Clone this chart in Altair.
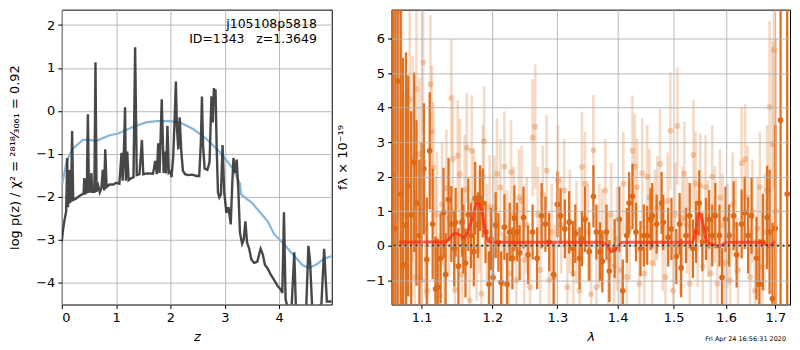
import altair as alt
import pandas as pd

# ---------------- left panel : p(z) ----------------
pz_z = [0.00, 0.02, 0.05, 0.08, 0.10, 0.115, 0.135, 0.15, 0.17, 0.19, 0.21, 0.26, 0.33, 0.40, 0.415,
        0.435, 0.46, 0.48, 0.50, 0.53, 0.545, 0.56, 0.60, 0.62, 0.64, 0.67, 0.70, 0.73, 0.755, 0.78,
        0.80, 0.825, 0.88, 0.95, 1.00, 1.06, 1.10, 1.12, 1.14, 1.165, 1.18, 1.205, 1.23, 1.28, 1.32,
        1.35, 1.38, 1.43, 1.475, 1.50, 1.58, 1.68, 1.72, 1.75, 1.775, 1.80, 1.84, 1.875, 1.90, 1.92,
        1.945, 1.97, 2.00, 2.02, 2.05, 2.075, 2.10, 2.12, 2.145, 2.17, 2.20, 2.23, 2.27, 2.32, 2.40,
        2.48, 2.53, 2.56, 2.58, 2.60, 2.63, 2.68, 2.72, 2.755, 2.78, 2.80, 2.815, 2.83, 2.85, 2.875,
        2.90, 2.93, 2.96, 2.99, 3.03, 3.07, 3.11, 3.14, 3.16, 3.19, 3.22, 3.25, 3.28, 3.32, 3.35,
        3.38, 3.41, 3.45, 3.49, 3.54, 3.60, 3.66, 3.70, 3.74, 3.79, 3.85, 3.91, 3.97, 4.03, 4.06,
        4.09, 4.12, 4.16, 4.23, 4.28, 4.31, 4.40, 4.50, 4.54, 4.57, 4.61, 4.72, 4.78, 4.83, 4.88, 4.97]
pz_logp = [-3.05, -2.80, -2.55, -2.35, -1.10, -2.25, -1.38, -2.15, -2.08, -0.47, -2.08, -2.05, -1.98, -1.93, -1.57,
           -1.92, -1.90, -0.08, -1.89, -1.88, -1.45, -1.89, -1.89, 1.13, -1.89, -1.75, -1.90, -1.80, -1.38, -1.86,
           -0.90, -1.78, -1.72, -1.72, -1.68, -1.70, -0.98, -1.63, -1.10, 0.08, -1.63, -0.95, -1.62, -1.57, -1.55,
           1.48, -1.50, -1.48, -0.68, -1.48, -1.46, -1.47, -1.17, -1.48, -0.76, -1.45, 0.27, -1.45, -0.95, -1.46,
           -0.35, -1.45, -1.42, -1.55, -1.10, -0.27, 0.68, -0.40, -0.90, -0.15, -0.95, -1.40, -1.48, -1.50, -1.49,
           -1.52, -1.52, -0.75, 0.33, -0.80, -1.35, -1.38, -1.20, 0.34, -0.27, 0.53, 0.30, 0.50, -0.80, -1.90,
           -2.02, -1.95, -0.80, -1.90, -2.38, -2.25, -2.65, -1.65, -1.10, -1.45, -1.14, -1.85, -2.85, -3.10, -3.00,
           -2.58, -3.07, -3.22, -3.47, -3.55, -3.52, -3.22, -3.35, -3.60, -3.68, -3.83, -3.95, -4.08, -4.17, -4.25,
           -2.37, -4.40, -4.60, -4.60, -3.30, -4.60, -4.60, -4.60, -3.15, -3.50, -4.60, -4.60, -4.50, -3.22, -4.45, -4.45]

chi_z = [0.01, 0.09, 0.21, 0.39, 0.50, 0.64, 0.88, 1.04, 1.31, 1.55, 1.74, 1.98, 2.17, 2.41, 2.65,
         2.90, 3.14, 3.28, 3.30, 3.51, 3.79, 3.91, 4.06, 4.24, 4.43, 4.55, 4.67, 4.83, 4.97]
chi_val = [-1.70, -1.17, -0.87, -0.68, -0.68, -0.70, -0.57, -0.53, -0.38, -0.27, -0.24, -0.24, -0.27, -0.42, -0.64,
           -0.95, -1.33, -1.70, -1.95, -2.16, -2.58, -2.88, -3.07, -3.33, -3.60, -3.67, -3.60, -3.45, -3.39]

z_ticks = [0, 1, 2, 3, 4]
logp_ticks = [-4, -3, -2, -1, 0, 1, 2]

# ---------------- right panel : spectrum ----------------
dark_wave = [1.062, 1.065, 1.068, 1.072, 1.075, 1.079, 1.082, 1.086, 1.090, 1.093, 1.097, 1.100, 1.103, 1.107,
             1.111, 1.115, 1.119, 1.122, 1.126, 1.130, 1.133, 1.137, 1.141, 1.145, 1.147, 1.151, 1.156, 1.158,
             1.161, 1.165, 1.169, 1.173, 1.175, 1.179, 1.182, 1.186, 1.190, 1.195, 1.198, 1.201, 1.205, 1.209,
             1.213, 1.218, 1.222, 1.226, 1.230, 1.233, 1.237, 1.241, 1.247, 1.254, 1.261, 1.268, 1.275, 1.281,
             1.287, 1.294, 1.300, 1.305, 1.312, 1.319, 1.325, 1.329, 1.336, 1.340, 1.345, 1.352, 1.359, 1.364,
             1.370, 1.374, 1.381, 1.386, 1.395, 1.403, 1.409, 1.416, 1.420, 1.426, 1.432, 1.440, 1.446, 1.452,
             1.458, 1.461, 1.469, 1.478, 1.481, 1.490, 1.496, 1.505, 1.511, 1.514, 1.523, 1.530, 1.536, 1.542,
             1.548, 1.554, 1.561, 1.567, 1.573, 1.579, 1.587, 1.592, 1.599, 1.606, 1.615, 1.621, 1.631, 1.637,
             1.644, 1.651, 1.661, 1.667, 1.674, 1.683, 1.688, 1.694, 1.700, 1.711, 1.725]
dark_flux = [2.00, 0.50, 4.77, 1.50, -0.55, 0.60, 1.73, 0.90, 2.42, 1.24, 0.30, 1.00, 2.23, -0.40,
             2.75, 0.63, -1.25, -1.20, -0.36, 0.96, -0.83, 1.34, 0.63, -0.08, 0.68, -0.59, 0.68, 0.20,
             -0.50, 0.90, 0.30, -0.17, 1.38, 0.60, 1.38, 1.24, 0.40, -1.11, 0.20, -0.92, 0.60, 0.10,
             -1.06, 0.54, -1.11, 0.40, -0.36, 0.80, 0.40, -0.20, 0.82, -0.26, 0.40, -0.36, 0.87, 0.63,
             0.11, -0.83, 1.20, 0.87, 0.49, 0.68, -0.08, 0.35, -0.36, 0.21, 0.77, -0.17, 1.43, 0.40,
             -0.17, -0.45, 0.40, -0.73, -0.08, 0.77, -1.30, 0.30, 1.24, 1.43, 0.40, -0.08, 0.30, 0.30,
             0.77, 0.87, 0.63, 1.24, 0.68, 0.25, 0.49, -0.31, 0.63, -0.64, 0.30, 0.87, -0.08, 0.40,
             1.24, 0.11, 0.49, 0.77, 0.30, 0.87, 0.30, -0.92, 0.77, 0.30, 0.87, -0.26, 0.63, 0.96,
             0.30, 0.87, -0.36, -1.11, 0.11, 0.82, 0.40, -1.53, 0.50, 3.64, 1.50]
dark_err = [20.0, 15.0, 12.0, 8.0, 6.0, 5.0, 3.2, 3.0, 2.6, 2.4, 2.2, 2.0, 1.9, 1.8,
            1.7, 1.6, 1.5, 1.4, 1.3, 1.3, 1.2, 1.2, 1.1, 1.1, 1.0, 1.1, 1.0, 1.0,
            1.0, 1.05, 0.95, 1.0, 1.05, 0.95, 0.95, 1.0, 0.9, 0.95, 0.9, 0.9, 0.95, 0.85,
            0.9, 0.95, 0.9, 0.85, 0.9, 0.95, 0.85, 0.8, 0.9, 0.85, 0.8, 0.9, 0.95, 0.8,
            0.85, 0.9, 0.95, 0.8, 0.85, 0.9, 0.8, 0.85, 0.9, 0.8, 0.95, 0.85, 0.9, 0.8,
            0.85, 0.9, 0.8, 0.9, 0.85, 0.95, 0.9, 0.8, 0.9, 0.95, 0.85, 0.8, 0.9, 0.85,
            0.9, 0.95, 0.85, 0.9, 0.8, 0.85, 0.9, 0.8, 0.9, 0.85, 0.8, 0.95, 0.85, 0.9,
            0.95, 0.85, 0.9, 0.85, 0.9, 0.95, 0.9, 0.85, 0.95, 0.9, 1.0, 0.95, 1.0, 1.05,
            1.1, 1.1, 1.2, 1.3, 1.4, 1.5, 1.8, 2.2, 3.0, 20.0, 20.0]

light_wave = [1.070, 1.073, 1.077, 1.080, 1.084, 1.088, 1.091, 1.093, 1.097, 1.100, 1.102, 1.105, 1.108, 1.112,
              1.114, 1.116, 1.119, 1.121, 1.125, 1.128, 1.131, 1.134, 1.138, 1.141, 1.143, 1.146, 1.150, 1.153,
              1.156, 1.160, 1.163, 1.167, 1.170, 1.173, 1.177, 1.181, 1.184, 1.186, 1.188, 1.192, 1.196, 1.199,
              1.203, 1.207, 1.212, 1.215, 1.218, 1.222, 1.225, 1.228, 1.232, 1.236, 1.240, 1.244, 1.248, 1.252,
              1.257, 1.261, 1.265, 1.269, 1.273, 1.277, 1.283, 1.287, 1.291, 1.296, 1.301, 1.306, 1.311, 1.316,
              1.320, 1.326, 1.331, 1.336, 1.340, 1.345, 1.350, 1.355, 1.359, 1.364, 1.369, 1.374, 1.379, 1.384,
              1.389, 1.394, 1.399, 1.405, 1.410, 1.416, 1.421, 1.426, 1.430, 1.434, 1.438, 1.443, 1.447, 1.452,
              1.456, 1.461, 1.466, 1.470, 1.475, 1.480, 1.485, 1.489, 1.494, 1.499, 1.503, 1.507, 1.512, 1.516,
              1.520, 1.525, 1.530, 1.537, 1.541, 1.545, 1.550, 1.555, 1.560, 1.565, 1.570, 1.573, 1.578, 1.583,
              1.588, 1.593, 1.598, 1.603, 1.608, 1.613, 1.619, 1.624, 1.631, 1.638, 1.643, 1.648, 1.653, 1.658,
              1.663, 1.668, 1.673, 1.678, 1.683, 1.688, 1.694, 1.697, 1.701]
light_flux = [6.78, 3.00, -0.60, 0.87, 4.24, 2.51, -0.90, 4.54, 2.66, -1.00, 5.31, 0.50, -1.30, 4.68,
              3.31, 2.26, 0.20, 0.91, -1.44, 1.20, -0.30, 1.67, 0.80, 4.28, 2.51, -1.28, 2.61, 2.07,
              -0.83, 1.62, 2.84, -1.58, 2.75, 1.30, -0.10, 0.70, -1.39, 2.00, 3.03, 0.40, 1.13, -0.60,
              1.10, 2.09, 1.69, -1.10, 2.30, 0.20, -0.80, 2.14, 0.90, -1.00, 1.40, 1.30, -0.40, 0.60,
              -1.20, 3.13, 3.45, 0.90, -0.70, 1.50, 2.18, -1.00, 0.40, -0.90, 1.90, 0.60, 1.60, -1.20,
              0.70, -0.80, 0.40, -1.30, 2.28, 1.80, 0.40, -1.40, 2.77, -1.20, 0.30, 0.25, 1.60, -0.40,
              0.90, -0.60, 0.20, -0.70, 1.80, -0.90, 0.50, 2.75, 2.30, 1.70, -1.10, 2.10, -0.80, 2.00,
              1.40, -0.50, 0.80, 1.10, 2.37, 0.10, -0.90, 1.30, 3.33, -1.30, 0.90, 3.47, 0.00, 0.80,
              2.09, 0.60, -1.10, 2.63, 1.80, 0.20, 1.75, -0.60, 1.70, 0.50, -0.80, 2.00, 0.90, -1.10,
              1.40, 0.60, -0.50, 0.30, -1.00, 1.20, 0.60, -0.70, 2.39, 2.51, 1.40, -0.90, 1.00, -1.30,
              0.50, 1.70, -0.60, 0.40, 1.60, 4.02, 2.94, 5.67, 1.00]
light_err = [6.0, 6.0, 5.0, 4.0, 3.0, 3.0, 2.5, 2.5, 2.2, 2.2, 2.0, 2.0, 2.0, 2.0,
             1.9, 1.9, 1.8, 1.8, 1.8, 1.8, 1.7, 1.7, 1.7, 1.7, 1.7, 1.6, 1.6, 1.6,
             1.6, 1.6, 1.6, 1.5, 1.6, 1.5, 1.5, 1.5, 1.4, 1.5, 1.6, 1.4, 1.5, 1.4,
             1.5, 1.6, 1.4, 1.5, 1.6, 1.4, 1.5, 1.5, 1.4, 1.5, 1.4, 1.6, 1.5, 1.4,
             1.5, 1.7, 1.8, 1.4, 1.5, 1.4, 1.6, 1.5, 1.4, 1.5, 1.6, 1.4, 1.5, 1.4,
             1.5, 1.4, 1.5, 1.4, 1.6, 1.5, 1.4, 1.5, 1.6, 1.4, 1.5, 1.4, 1.5, 1.4,
             1.5, 1.4, 1.5, 1.4, 1.5, 1.4, 1.5, 1.6, 1.5, 1.4, 1.5, 1.6, 1.4, 1.5,
             1.4, 1.5, 1.4, 1.5, 1.6, 1.4, 1.5, 1.4, 1.7, 1.4, 1.5, 1.7, 1.4, 1.5,
             1.5, 1.4, 1.5, 1.6, 1.5, 1.4, 1.5, 1.4, 1.5, 1.4, 1.5, 1.5, 1.4, 1.5,
             1.4, 1.5, 1.4, 1.5, 1.4, 1.5, 1.4, 1.5, 1.6, 1.6, 1.5, 1.4, 1.5, 1.5,
             1.5, 1.6, 1.6, 1.7, 1.9, 2.5, 3.0, 4.0, 5.0]

model_wave = [1.070, 1.132, 1.138, 1.145, 1.151, 1.158, 1.163, 1.170, 1.178, 1.184, 1.189, 1.194, 1.200,
              1.375, 1.382, 1.390, 1.397, 1.405, 1.410, 1.534, 1.540, 1.548, 1.555, 1.561, 1.567, 1.578,
              1.585, 1.592, 1.600, 1.673, 1.680, 1.686, 1.692, 1.698]
model_flux = [0.11, 0.11, 0.20, 0.36, 0.34, 0.25, 0.35, 0.75, 1.25, 1.05, 0.50, 0.12, 0.10,
              0.10, 0.00, -0.17, -0.10, 0.09, 0.10, 0.10, 0.30, 0.96, 0.65, 0.18, 0.08, 0.02,
              -0.03, 0.02, 0.10, 0.10, 0.04, -0.01, 0.03, 0.13]

wave_ticks = [1.1, 1.2, 1.3, 1.4, 1.5, 1.6, 1.7]
flux_ticks = [-1, 0, 1, 2, 3, 4, 5, 6]

FONT = "DejaVu Sans"
ORANGE = "#dc6a16"
NB = "\u00a0"

# ---------------- left chart ----------------
pz_df = pd.DataFrame({"z": pz_z, "logp": pz_logp})
chi_df = pd.DataFrame({"z": chi_z, "logp": chi_val})

zx = alt.X("z:Q", scale=alt.Scale(domain=[0, 4.97], nice=False, zero=False),
           axis=alt.Axis(values=z_ticks, title="z", titleFontStyle="italic", format="d"))
zy = alt.Y("logp:Q", scale=alt.Scale(domain=[-4.52, 2.36], nice=False, zero=False),
           axis=alt.Axis(values=logp_ticks, format="d",
                         title="log p(z) / χ² = ²⁸¹⁸⁄₃₀₆₁ = 0.92", titlePadding=14))

chi_line = alt.Chart(chi_df).mark_line(color="#86b6da", strokeWidth=2.2, clip=True).encode(x=zx, y=zy)
pz_line = alt.Chart(pz_df).mark_line(color="#333333", strokeWidth=2.4, opacity=0.9, clip=True).encode(x=zx, y=zy)

lab_df = pd.DataFrame({"t1": ["j105108p5818"], "t2": ["ID=1343" + NB * 3 + "z=1.3649"]})
lab1 = alt.Chart(lab_df).mark_text(align="right", baseline="middle", font=FONT, fontSize=12.5, color="black").encode(
    x=alt.value(256), y=alt.value(14), text="t1:N")
lab2 = alt.Chart(lab_df).mark_text(align="right", baseline="middle", font=FONT, fontSize=12.5, color="black").encode(
    x=alt.value(256), y=alt.value(29), text="t2:N")

left = alt.layer(chi_line, pz_line, lab1, lab2).properties(width=271, height=296)

# ---------------- right chart ----------------
dark_df = pd.DataFrame({"w": dark_wave, "f": dark_flux, "e": dark_err})
light_df = pd.DataFrame({"w": light_wave, "f": light_flux, "e": light_err})
model_df = pd.DataFrame({"w": model_wave, "f": model_flux})
zero_df = pd.DataFrame({"f": [0]})

wx = alt.X("w:Q", scale=alt.Scale(type="log", domain=[1.06, 1.731], nice=False, zero=False),
           axis=alt.Axis(values=wave_ticks, format=".1f", title="λ", titleFontStyle="italic", zindex=1))
fy_scale = alt.Scale(domain=[-1.70, 6.84], nice=False, zero=False)
fy_axis = alt.Axis(values=flux_ticks, format="d", title="fλ × 10⁻¹⁹", titlePadding=16, zindex=1)
fy = alt.Y("f:Q", scale=fy_scale, axis=fy_axis)

light_bars = alt.Chart(light_df).transform_calculate(lo="datum.f - datum.e", hi="datum.f + datum.e").mark_rule(
    color=ORANGE, opacity=0.25, strokeWidth=2.6, clip=True).encode(
    x=wx, y=alt.Y("lo:Q", scale=fy_scale, axis=fy_axis), y2="hi:Q")
light_pts = alt.Chart(light_df).mark_circle(color=ORANGE, opacity=0.3, size=36, clip=True).encode(x=wx, y=fy)

dark_bars = alt.Chart(dark_df).transform_calculate(lo="datum.f - datum.e", hi="datum.f + datum.e").mark_rule(
    color=ORANGE, opacity=0.95, strokeWidth=2.3, clip=True).encode(
    x=wx, y=alt.Y("lo:Q", scale=fy_scale, axis=fy_axis), y2="hi:Q")
dark_pts = alt.Chart(dark_df).mark_circle(color=ORANGE, opacity=1, size=32, clip=True).encode(x=wx, y=fy)

model_line = alt.Chart(model_df).mark_line(color="#ff2a1a", opacity=0.75, strokeWidth=3,
                                           interpolate="monotone", clip=True).encode(x=wx, y=fy)
zero_line = alt.Chart(zero_df).mark_rule(color="black", strokeWidth=2, strokeDash=[2, 3.5]).encode(
    y=alt.Y("f:Q", scale=fy_scale, axis=fy_axis))

stamp_df = pd.DataFrame({"t": ["Fri Apr 24 16:56:31 2020"]})
stamp = alt.Chart(stamp_df).mark_text(align="right", baseline="middle", font=FONT, fontSize=6.5,
                                      color="black").encode(x=alt.value(396), y=alt.value(331), text="t:N")

right = alt.layer(light_bars, light_pts, dark_bars, dark_pts, model_line, zero_line, stamp).properties(
    width=400, height=296)

chart = alt.hconcat(left, right, spacing=3).properties(
    padding={"left": 0, "top": 0, "right": 0, "bottom": 0}
).configure_axis(
    labelFont=FONT, labelFontSize=13, titleFont=FONT, titleFontSize=13, titleFontWeight="normal",
    labelColor="black", titleColor="black", gridColor="#b0b0b0", gridWidth=0.9, gridOpacity=1,
    tickColor="black", tickSize=4, labelPadding=3, domain=False
).configure_axisX(titlePadding=6).configure_view(stroke="black", strokeWidth=1)

chart.save("out.html", embed_options={"renderer": "svg", "actions": False})
